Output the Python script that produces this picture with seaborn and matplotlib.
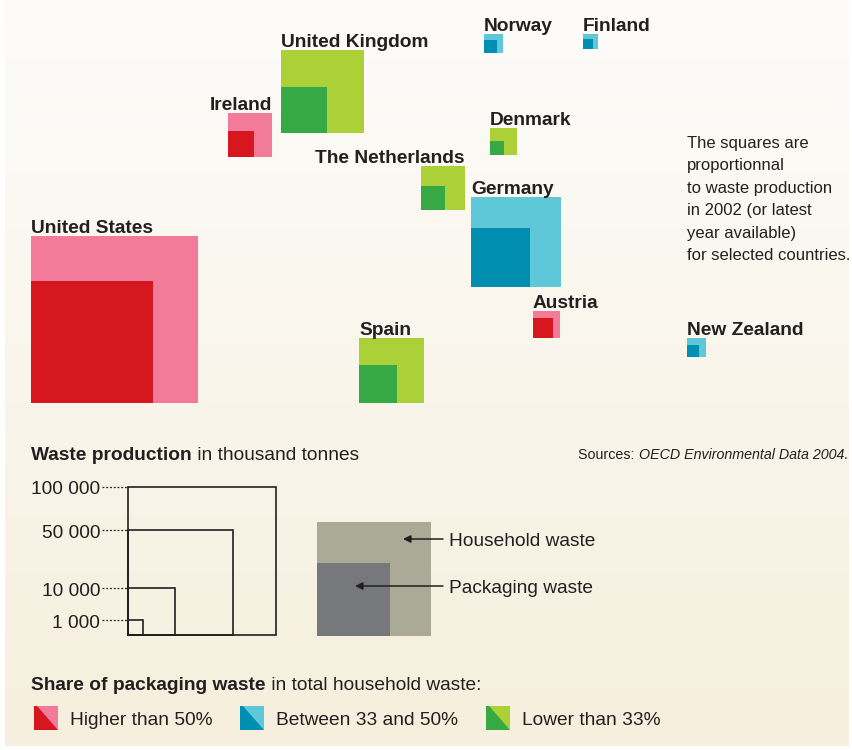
import numpy as np
import matplotlib.pyplot as plt
import seaborn as sns
from matplotlib.patches import Rectangle, Polygon

# ---------------------------------------------------------------------------
# Data (thousand tonnes)
# ---------------------------------------------------------------------------
countries = ["United States", "United Kingdom", "Ireland", "The Netherlands", "Spain",
             "Germany", "Austria", "New Zealand", "Denmark", "Norway", "Finland"]
household = [127000, 31500, 8800, 8800, 19300, 37000, 3300, 1650, 3300, 1650, 1030]
packaging = [68000, 9700, 3100, 2600, 6600, 15900, 1800, 660, 900, 770, 460]
share_class = ["high", "low", "high", "low", "low", "mid", "high", "mid", "low", "mid", "mid"]

scale_values = [100000, 50000, 10000, 1000]
scale_labels = ["100 000", "50 000", "10 000", "1 000"]
example_household = 59000
example_packaging = 24000

class_keys = ["high", "mid", "low"]
class_labels = ["Higher than 50%", "Between 33 and 50%", "Lower than 33%"]

note_lines = ["The squares are", "proportionnal", "to waste production",
              "in 2002 (or latest", "year available)", "for selected countries."]

# ---------------------------------------------------------------------------
# Layout (pixel space, y grows downwards)
# ---------------------------------------------------------------------------
pos_x = [31, 281, 228, 421, 359, 471, 533, 687, 490, 484, 583]
pos_y = [403, 133, 157, 210, 403, 287, 338, 357, 155, 53, 49]
label_ha = ["left", "left", "right", "right", "left", "left", "left", "left", "left", "left", "left"]

W, H = 852, 750
FULL = 148          # side in px of the 100 000 reference square
INK = "#231f20"
PALETTE = {"high": ("#f27b9a", "#d7171f"),
           "mid": ("#5ec8d8", "#008fb0"),
           "low": ("#acd038", "#36a844")}
KEY_SIZE = 13.8     # narrow legend type in the original; regular width here


def side(v):
    return FULL * np.sqrt(v / 100000)


sns.set_theme(style="white")
plt.rcParams["font.family"] = ["Liberation Sans", "DejaVu Sans"]

fig = plt.figure(figsize=(W / 100, H / 100), dpi=100, facecolor="white")
ax = fig.add_axes([0, 0, 1, 1])
ax.set_xlim(0, W)
ax.set_ylim(H, 0)
ax.axis("off")

# background gradient
top = np.array([253, 252, 250]) / 255
bot = np.array([246, 239, 221]) / 255
t = np.linspace(0, 1, 256)[:, None, None]
grad = top * (1 - t) + bot * t
ax.imshow(grad, extent=(5, 849, 746, 0), aspect="auto", zorder=0)

renderer = fig.canvas.get_renderer()


def rich(x, y, pieces, size, align="left"):
    # draw a run of text pieces (text, weight, style) one after another
    texts = [ax.text(0, y, txt, fontsize=size, fontweight=w, fontstyle=s,
                     color=INK, va="baseline", ha="left") for txt, w, s in pieces]
    widths = [tx.get_window_extent(renderer=renderer).width for tx in texts]
    if align == "right":
        x -= sum(widths)
    for tx, wd in zip(texts, widths):
        tx.set_x(x)
        x += wd


# country squares
for i, name in enumerate(countries):
    light, dark = PALETTE[share_class[i]]
    so, si = side(household[i]), side(packaging[i])
    x0, y0 = pos_x[i], pos_y[i]
    ax.add_patch(Rectangle((x0, y0 - so), so, so, color=light, lw=0, zorder=2))
    ax.add_patch(Rectangle((x0, y0 - si), si, si, color=dark, lw=0, zorder=3))
    lx = x0 if label_ha[i] == "left" else x0 + so
    ax.text(lx, y0 - so - 3, name, fontsize=13.8, fontweight="bold", color=INK,
            ha=label_ha[i], va="baseline", zorder=4)

# explanatory note
for k, line in enumerate(note_lines):
    ax.text(687, 148 + 22.4 * k, line, fontsize=12.0, color=INK, va="baseline", ha="left")

# scale of squares
rich(31, 460, [("Waste production", "bold", "normal"),
               (" in thousand tonnes", "normal", "normal")], KEY_SIZE)
rich(848, 459, [("Sources: ", "normal", "normal"),
                ("OECD Environmental Data 2004", "normal", "italic"),
                (".", "normal", "normal")], 10.3, align="right")

base_x, base_y = 128, 635
for v, lab in zip(scale_values, scale_labels):
    s = side(v)
    ax.add_patch(Rectangle((base_x, base_y - s), s, s, fill=False, ec=INK, lw=1.2, zorder=3))
    ax.plot([102, base_x], [base_y - s, base_y - s], color=INK, lw=0.9,
            ls=(0, (1.5, 1.5)), zorder=3)
    ax.text(100, base_y - s + 7.5, lab, fontsize=KEY_SIZE, color=INK,
            ha="right", va="baseline")

# household / packaging key
ex_x, ex_y = 317, 636
so, si = side(example_household), side(example_packaging)
ax.add_patch(Rectangle((ex_x, ex_y - so), so, so, color="#aaaa96", lw=0, zorder=2))
ax.add_patch(Rectangle((ex_x, ex_y - si), si, si, color="#76787c", lw=0, zorder=3))
for (tip, yy, lab) in [(403, 539, "Household waste"), (355, 586, "Packaging waste")]:
    ax.annotate("", xy=(tip, yy), xytext=(443, yy),
                arrowprops=dict(arrowstyle="-|>", color=INK, lw=1.1,
                                mutation_scale=11, shrinkA=0, shrinkB=0), zorder=4)
    ax.text(449, yy + 7, lab, fontsize=KEY_SIZE, color=INK, ha="left", va="baseline")

# share legend
rich(31, 690, [("Share of packaging waste", "bold", "normal"),
               (" in total household waste:", "normal", "normal")], KEY_SIZE)
legend_x = [34, 240, 486]
for lx, key, lab in zip(legend_x, class_keys, class_labels):
    light, dark = PALETTE[key]
    y_top, sz = 706, 24
    ax.add_patch(Polygon([(lx, y_top), (lx + sz, y_top), (lx + sz, y_top + sz)],
                         closed=True, color=light, lw=0, zorder=3))
    ax.add_patch(Polygon([(lx, y_top), (lx + 3, y_top), (lx + sz, y_top + sz), (lx, y_top + sz)],
                         closed=True, color=dark, lw=0, zorder=3))
    ax.text(lx + 36, 725, lab, fontsize=KEY_SIZE, color=INK, ha="left", va="baseline")

fig.savefig("out.png", dpi=100, facecolor="white")
